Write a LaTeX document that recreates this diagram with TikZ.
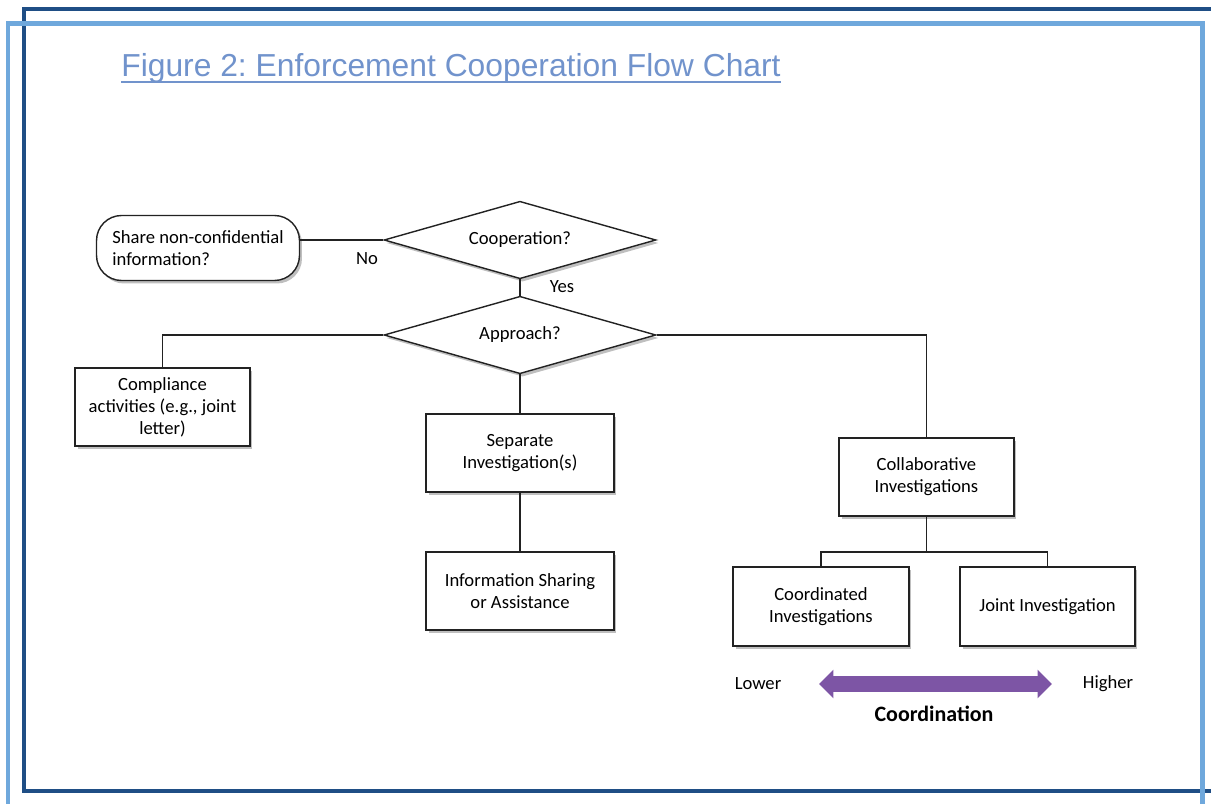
\documentclass[tikz,border=0pt]{standalone}
\usepackage{fontspec}
\usepackage{tikz}
\usetikzlibrary{shapes,shapes.arrows,shadows,positioning}
\newfontfamily\chartfont{Carlito}
\newfontfamily\titlefont{Liberation Sans}
\definecolor{framedark}{RGB}{31,78,133}
\definecolor{framelight}{RGB}{111,168,220}
\definecolor{titleblue}{RGB}{113,147,204}
\definecolor{scalepurple}{RGB}{125,85,165}
\definecolor{chartline}{RGB}{34,34,34}
\tikzstyle{softshadow}=[drop shadow={shadow xshift=0.05cm, shadow yshift=-0.06cm, opacity=0.25, fill=black}]
\tikzstyle{process}=[draw=chartline, line width=0.8pt, fill=white, rectangle, align=center, minimum width=3.5cm, minimum height=1.56cm, softshadow]
\tikzstyle{decision}=[draw=chartline, line width=0.8pt, fill=white, diamond, aspect=3.53, inner sep=0pt, minimum width=5.44cm, minimum height=1.55cm, softshadow]
\tikzstyle{terminal}=[draw=chartline, line width=0.8pt, fill=white, rectangle, rounded corners=0.5cm, align=left, minimum width=4.06cm, minimum height=1.3cm, softshadow]
\tikzstyle{link}=[draw=chartline, line width=0.7pt]

\begin{document}
\begin{tikzpicture}[x=0.02cm, y=-0.02cm, font=\chartfont\fontsize{10.6}{12.5}\selectfont]
    \useasboundingbox (0,0) rectangle (1211,804);
    % page frames
    \draw[framedark, line width=0.09cm] (24,9) rectangle (1240,791);
    \draw[framelight, line width=0.1cm] (8,24) rectangle (1202,830);
    \node[anchor=base west, inner sep=0pt, text=titleblue, font=\titlefont\fontsize{18.1}{22}\selectfont] (title) at (121,77) {Figure 2:\ Enforcement Cooperation Flow Chart};
    \draw[titleblue, line width=0.045cm] ([yshift=-0.1cm]title.base west) -- ([yshift=-0.1cm]title.base east);

    % decisions
    \node[decision] (coop) at (520,240) {Cooperation?};
    \node[decision] (appr) at (520,335) {Approach?};
    \node[terminal] (share) at (198,248) {Share non-confidential\\information?};

    % outcomes
    \node[process] (comp) at (162.5,407) {Compliance\\activities (e.g., joint\\letter)};
    \node[process, minimum width=3.76cm] (sep) at (520,453) {Separate\\Investigation(s)};
    \node[process, minimum width=3.76cm] (info) at (520,591) {Information Sharing\\or Assistance};
    \node[process] (collab) at (926.5,477) {Collaborative\\Investigations};
    \node[process, minimum width=3.52cm, minimum height=1.58cm] (coord) at (821,606.5) {Coordinated\\Investigations};
    \node[process, minimum height=1.58cm] (joint) at (1047.5,606.5) {Joint Investigation};
    \coordinate (split) at (926.5,552);

    \path[link] (coop.west) -- (coop.west -| share.east);
    \path[link] (coop.south) -- (appr.north);
    \path[link] (appr.west) -| (comp.north);
    \path[link] (appr.south) -- (sep.north);
    \path[link] (sep.south) -- (info.north);
    \path[link] (appr.east) -| (collab.north);
    \path[link] (collab.south) -- (split);
    \path[link] (coord.north) |- (split) -| (joint.north);

    \node (no) at (367,259) {No};
    \node (yes) at (562,287) {Yes};

    % coordination scale
    \node[double arrow, fill=scalepurple, inner sep=0.15cm, minimum height=4.66cm, double arrow head extend=0.13cm] (scale) at (935.5,684) {};
    \node (lower) at (758,684) {Lower};
    \node (higher) at (1108,684) {Higher};
    \node[font=\chartfont\bfseries\fontsize{12.5}{14}\selectfont] (coordlbl) at (934,714) {Coordination};
\end{tikzpicture}
\end{document}
